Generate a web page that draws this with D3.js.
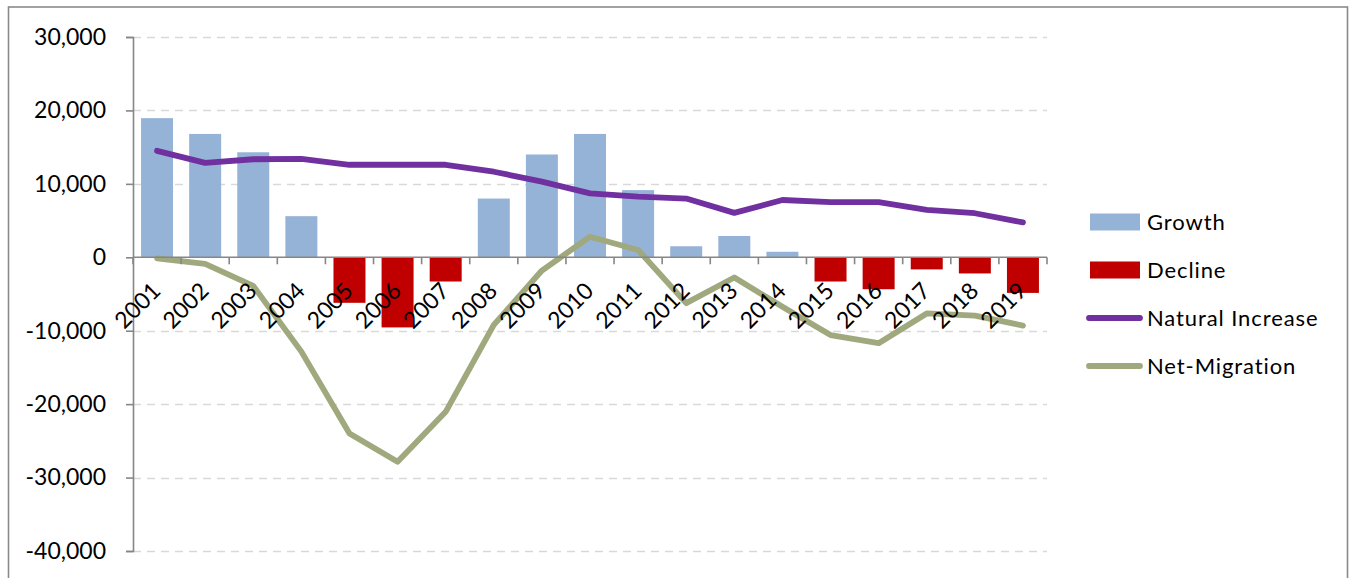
<!DOCTYPE html>
<html>
<head>
<meta charset="utf-8">
<script src="https://cdn.jsdelivr.net/npm/d3@7"></script>
<style>
  html, body { margin: 0; padding: 0; background: #fff; }
  svg { display: block; }
  text { font-family: Lato, "Open Sans", sans-serif; fill: #000; }
</style>
</head>
<body>
<svg id="chart" width="1353" height="578"></svg>
<script>
const years = ["2001","2002","2003","2004","2005","2006","2007","2008","2009","2010",
               "2011","2012","2013","2014","2015","2016","2017","2018","2019"];
const growth = [18950, 16800, 14300, 5600, null, null, null, 8000, 14000, 16800,
                9150, 1500, 2900, 750, null, null, null, null, null];
const decline = [null, null, null, null, -6200, -9550, -3300, null, null, null,
                 null, null, null, null, -3300, -4350, -1650, -2200, -4850];
const naturalIncrease = [14500, 12850, 13350, 13400, 12600, 12600, 12600, 11650, 10300, 8700,
                         8250, 8000, 6050, 7800, 7500, 7500, 6450, 6000, 4750];
const netMigration = [-150, -900, -3900, -12850, -24000, -27850, -21050, -9200, -1800, 2800,
                      1000, -6250, -2750, -6750, -10600, -11700, -7650, -7950, -9300];
const yTicks = [30000, 20000, 10000, 0, -10000, -20000, -30000, -40000];
const seriesNames = ["Growth", "Decline", "Natural Increase", "Net-Migration"];

const colors = {
  "Growth": "#95B3D7",
  "Decline": "#C00000",
  "Natural Increase": "#7030A0",
  "Net-Migration": "#A0A87E"
};

const svg = d3.select("#chart");
const plot = { left: 133, right: 1047, top: 37, bottom: 551 };

// frame
svg.append("rect")
  .attr("x", 8.5).attr("y", 7).attr("width", 1339).attr("height", 620)
  .attr("fill", "#fff").attr("stroke", "#8a8a8a").attr("stroke-width", 1.6);

const x = d3.scaleBand().domain(years).range([plot.left, plot.right])
  .paddingInner(0.335).paddingOuter(0.1675);
const y = d3.scaleLinear().domain([-40000, 30000]).range([plot.bottom, plot.top]);

// gridlines
svg.append("g").selectAll("line")
  .data(yTicks.filter(d => d !== 0))
  .join("line")
  .attr("x1", plot.left).attr("x2", plot.right)
  .attr("y1", d => Math.round(y(d)) + 0.5).attr("y2", d => Math.round(y(d)) + 0.5)
  .attr("stroke", "#D9D9D9").attr("stroke-width", 1.6)
  .attr("stroke-dasharray", "8,6");

// bars
svg.append("g").selectAll("rect")
  .data(years.map((yr, i) => ({ yr, v: growth[i] })).filter(d => d.v != null))
  .join("rect")
  .attr("x", d => x(d.yr)).attr("width", x.bandwidth())
  .attr("y", d => y(d.v)).attr("height", d => y(0) - y(d.v))
  .attr("fill", colors["Growth"]);

svg.append("g").selectAll("rect")
  .data(years.map((yr, i) => ({ yr, v: decline[i] })).filter(d => d.v != null))
  .join("rect")
  .attr("x", d => x(d.yr)).attr("width", x.bandwidth())
  .attr("y", y(0)).attr("height", d => y(d.v) - y(0))
  .attr("fill", colors["Decline"]);

// y axis
const locale = d3.formatLocale({ decimal: ".", thousands: ",", grouping: [3], currency: ["", ""], minus: "-" });
const yAxis = d3.axisLeft(y).tickValues(yTicks).tickSize(7).tickPadding(20)
  .tickFormat(locale.format(","));
const gy = svg.append("g").attr("transform", `translate(${plot.left},0)`).call(yAxis);
gy.select(".domain").attr("stroke", "#868686").attr("stroke-width", 1.6);
gy.selectAll(".tick line").attr("stroke", "#868686").attr("stroke-width", 1.6);
gy.selectAll(".tick text").attr("font-size", 23).attr("font-family", "Lato");

// x axis (at zero)
const gx = svg.append("g").attr("transform", `translate(0,${y(0)})`)
  .call(d3.axisBottom(x).tickSize(0).tickPadding(0));
gx.select(".domain").remove();
gx.append("line").attr("x1", plot.left).attr("x2", plot.right)
  .attr("stroke", "#868686").attr("stroke-width", 1.6);
// tick marks at category boundaries
const bounds = years.map(yr => x(yr) - x.step() * x.paddingInner() / 2).concat([plot.right]);
gx.append("g").selectAll("line").data(bounds).join("line")
  .attr("x1", d => d).attr("x2", d => d).attr("y1", 0).attr("y2", 7)
  .attr("stroke", "#868686").attr("stroke-width", 1.6);

// lines
const line = d3.line().x((d, i) => x(years[i]) + x.bandwidth() / 2).y(d => y(d));
const linesG = svg.append("g");
linesG.append("path").datum(netMigration).attr("d", line)
  .attr("fill", "none").attr("stroke", colors["Net-Migration"]).attr("stroke-width", 5.8)
  .attr("stroke-linejoin", "round").attr("stroke-linecap", "round");
linesG.append("path").datum(naturalIncrease).attr("d", line)
  .attr("fill", "none").attr("stroke", colors["Natural Increase"]).attr("stroke-width", 5.8)
  .attr("stroke-linejoin", "round").attr("stroke-linecap", "round");

// x labels on top
gx.raise();
gx.selectAll(".tick text")
  .attr("font-size", 23).attr("font-family", "Lato")
  .attr("text-anchor", "end")
  .attr("dy", 0)
  .attr("transform", "translate(5,35) rotate(-45)");

// legend
const legend = svg.append("g");
const legY = [222, 270, 318, 366];
seriesNames.forEach((name, i) => {
  const g = legend.append("g").attr("transform", `translate(0,${legY[i]})`);
  if (i < 2) {
    g.append("rect").attr("x", 1090).attr("y", -8.5).attr("width", 50).attr("height", 17)
      .attr("fill", colors[name]);
  } else {
    g.append("line").attr("x1", 1089).attr("x2", 1140).attr("y1", 0).attr("y2", 0)
      .attr("stroke", colors[name]).attr("stroke-width", 5.8).attr("stroke-linecap", "round");
  }
  g.append("text").attr("x", 1147).attr("y", 0).attr("dy", "0.35em")
    .attr("font-size", 22).attr("letter-spacing", 0.9).text(name);
});
</script>
</body>
</html>
